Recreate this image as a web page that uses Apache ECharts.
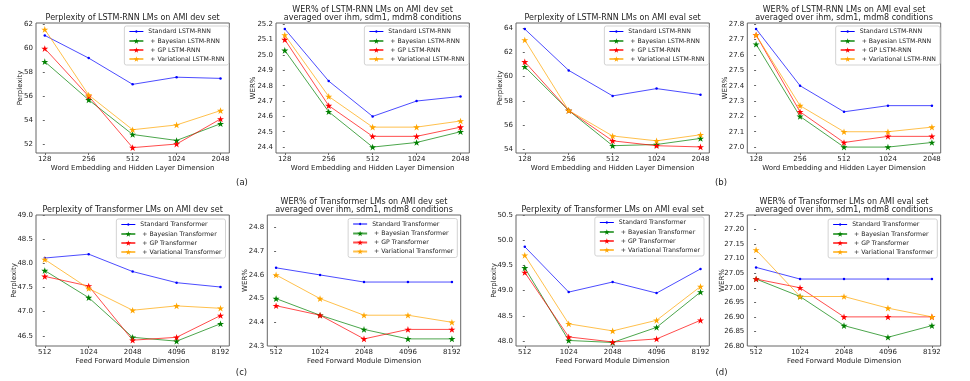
<!DOCTYPE html>
<html>
<head>
<meta charset="utf-8">
<script src="https://cdn.jsdelivr.net/npm/echarts@6/dist/echarts.min.js"></script>
<style>
  html, body { margin: 0; padding: 0; background: #fff; }
  #chart { width: 970px; height: 381px; }
</style>
</head>
<body>
<div id="chart"></div>
<script>
// categories
var lstmDims = ['128', '256', '512', '1024', '2048'];
var tfDims = ['512', '1024', '2048', '4096', '8192'];
var lstmNames = ['Standard LSTM-RNN', ' + Bayesian LSTM-RNN', ' + GP LSTM-RNN', ' + Variational LSTM-RNN'];
var tfNames = ['Standard Transformer', ' + Bayesian Transformer', ' + GP Transformer', ' + Variational Transformer'];

// (a) perplexity, LSTM-RNN, dev
var pplLstmDevStd = [61.1, 59.2, 57.0, 57.6, 57.5];
var pplLstmDevBayes = [58.9, 55.7, 52.8, 52.3, 53.7];
var pplLstmDevGp = [60.0, 56.0, 51.7, 52.0, 54.1];
var pplLstmDevVar = [61.6, 56.1, 53.2, 53.6, 54.8];
var pplLstmDevTicks = [52, 54, 56, 58, 60, 62];

// (a) WER, LSTM-RNN, dev
var werLstmDevStd = [25.17, 24.83, 24.60, 24.70, 24.73];
var werLstmDevBayes = [25.03, 24.63, 24.40, 24.43, 24.50];
var werLstmDevGp = [25.10, 24.67, 24.47, 24.47, 24.53];
var werLstmDevVar = [25.13, 24.73, 24.53, 24.53, 24.57];
var werLstmDevTicks = [24.4, 24.5, 24.6, 24.7, 24.8, 24.9, 25.0, 25.1, 25.2];

// (b) perplexity, LSTM-RNN, eval
var pplLstmEvalStd = [63.9, 60.5, 58.4, 59.0, 58.5];
var pplLstmEvalBayes = [60.8, 57.2, 54.3, 54.4, 54.9];
var pplLstmEvalGp = [61.2, 57.2, 54.7, 54.3, 54.2];
var pplLstmEvalVar = [63.0, 57.2, 55.1, 54.7, 55.2];
var pplLstmEvalTicks = [54, 56, 58, 60, 62, 64];

// (b) WER, LSTM-RNN, eval
var werLstmEvalStd = [27.77, 27.40, 27.23, 27.27, 27.27];
var werLstmEvalBayes = [27.67, 27.20, 27.00, 27.00, 27.03];
var werLstmEvalGp = [27.73, 27.23, 27.03, 27.07, 27.07];
var werLstmEvalVar = [27.73, 27.27, 27.10, 27.10, 27.13];
var werLstmEvalTicks = [27.0, 27.1, 27.2, 27.3, 27.4, 27.5, 27.6, 27.7, 27.8];

// (c) perplexity, Transformer, dev
var pplTfDevStd = [48.11, 48.19, 47.83, 47.60, 47.51];
var pplTfDevBayes = [47.85, 47.29, 46.47, 46.39, 46.75];
var pplTfDevGp = [47.73, 47.53, 46.41, 46.47, 46.92];
var pplTfDevVar = [48.08, 47.48, 47.03, 47.12, 47.07];
var pplTfDevTicks = [46.5, 47.0, 47.5, 48.0, 48.5, 49.0];

// (c) WER, Transformer, dev
var werTfDevStd = [24.63, 24.60, 24.57, 24.57, 24.57];
var werTfDevBayes = [24.50, 24.43, 24.37, 24.33, 24.33];
var werTfDevGp = [24.47, 24.43, 24.33, 24.37, 24.37];
var werTfDevVar = [24.60, 24.50, 24.43, 24.43, 24.40];
var werTfDevTicks = [24.3, 24.4, 24.5, 24.6, 24.7, 24.8];

// (d) perplexity, Transformer, eval
var pplTfEvalStd = [49.87, 48.97, 49.17, 48.95, 49.43];
var pplTfEvalBayes = [49.45, 48.01, 47.97, 48.27, 48.97];
var pplTfEvalGp = [49.36, 48.08, 47.98, 48.04, 48.41];
var pplTfEvalVar = [49.70, 48.34, 48.20, 48.41, 49.08];
var pplTfEvalTicks = [48.0, 48.5, 49.0, 49.5, 50.0, 50.5];

// (d) WER, Transformer, eval
var werTfEvalStd = [27.07, 27.03, 27.03, 27.03, 27.03];
var werTfEvalBayes = [27.03, 26.97, 26.87, 26.83, 26.87];
var werTfEvalGp = [27.03, 27.00, 26.90, 26.90, 26.90];
var werTfEvalVar = [27.13, 26.97, 26.97, 26.93, 26.90];
var werTfEvalTicks = [26.80, 26.85, 26.90, 26.95, 27.00, 27.05, 27.10, 27.15, 27.20, 27.25];

var FONT = 'DejaVu Sans';
var TXT = '#222';
var FRAME = '#666';
var colors = ['#0000ff', '#008000', '#ff0000', '#ffa500'];
// matplotlib-like '*' marker
var star = 'path://M0,-10 L2.245,-3.09 L9.51,-3.09 L3.633,1.18 L5.88,8.09 L0,3.82 L-5.88,8.09 L-3.633,1.18 L-9.51,-3.09 L-2.245,-3.09 Z';
// legend icon for the '.' marker: thin line + small dot in a 14x7 box
var dotLineIcon = 'path://M0,0 M14,7 M0,3.1 L6,3.1 L6.3,2.5 L7,2.2 L7.7,2.5 L8,3.1 L14,3.1 L14,3.9 L8,3.9 L7.7,4.5 L7,4.8 L6.3,4.5 L6,3.9 L0,3.9 Z';
var lstmX = 'Word Embedding and Hidden Layer Dimension';
var tfX = 'Feed Forward Module Dimension';
var werSub = '\naveraged over ihm, sdm1, mdm8 conditions';

var panels = [
  { cats: lstmDims, names: lstmNames, vals: [pplLstmDevStd, pplLstmDevBayes, pplLstmDevGp, pplLstmDevVar],
    ticks: pplLstmDevTicks, min: 51.25, max: 62.14, dec: 0,
    title: 'Perplexity of LSTM-RNN LMs on AMI dev set', yName: 'Perplexity', xName: lstmX,
    box: [36, 23, 193.3, 130], gap: 12, lr: 741.3, lt: 26 },
  { cats: lstmDims, names: lstmNames, vals: [werLstmDevStd, werLstmDevBayes, werLstmDevGp, werLstmDevVar],
    ticks: werLstmDevTicks, min: 24.3615, max: 25.2085, dec: 1,
    title: 'WER% of LSTM-RNN LMs on AMI dev set' + werSub, yName: 'WER%', xName: lstmX,
    box: [276, 23, 193.3, 130], gap: 19, lr: 501.3, lt: 26 },
  { cats: lstmDims, names: lstmNames, vals: [pplLstmEvalStd, pplLstmEvalBayes, pplLstmEvalGp, pplLstmEvalVar],
    ticks: pplLstmEvalTicks, min: 53.7, max: 64.4, dec: 0,
    title: 'Perplexity of LSTM-RNN LMs on AMI eval set', yName: 'Perplexity', xName: lstmX,
    box: [516, 23, 193.3, 130], gap: 12, lr: 261.3, lt: 26 },
  { cats: lstmDims, names: lstmNames, vals: [werLstmEvalStd, werLstmEvalBayes, werLstmEvalGp, werLstmEvalVar],
    ticks: werLstmEvalTicks, min: 26.9615, max: 27.8085, dec: 1,
    title: 'WER% of LSTM-RNN LMs on AMI eval set' + werSub, yName: 'WER%', xName: lstmX,
    box: [747.3, 23, 193.4, 130], gap: 19, lr: 30, lt: 26 },
  { cats: tfDims, names: tfNames, vals: [pplTfDevStd, pplTfDevBayes, pplTfDevGp, pplTfDevVar],
    ticks: pplTfDevTicks, min: 46.29, max: 49.0, dec: 1,
    title: 'Perplexity of Transformer LMs on AMI dev set', yName: 'Perplexity', xName: tfX,
    box: [36, 215, 193.3, 131], gap: 18.7, lr: 744.5, lt: 219 },
  { cats: tfDims, names: tfNames, vals: [werTfDevStd, werTfDevBayes, werTfDevGp, werTfDevVar],
    ticks: werTfDevTicks, min: 24.3, max: 24.853, dec: 1,
    title: 'WER% of Transformer LMs on AMI dev set' + werSub, yName: 'WER%', xName: tfX,
    box: [267.3, 215, 193.4, 131], gap: 19, lr: 512.7, lt: 218.5 },
  { cats: tfDims, names: tfNames, vals: [pplTfEvalStd, pplTfEvalBayes, pplTfEvalGp, pplTfEvalVar],
    ticks: pplTfEvalTicks, min: 47.9, max: 50.5, dec: 1,
    title: 'Perplexity of Transformer LMs on AMI eval set', yName: 'Perplexity', xName: tfX,
    box: [516, 215, 193.3, 131], gap: 18.7, lr: 266, lt: 217 },
  { cats: tfDims, names: tfNames, vals: [werTfEvalStd, werTfEvalBayes, werTfEvalGp, werTfEvalVar],
    ticks: werTfEvalTicks, min: 26.8, max: 27.25, dec: 2,
    title: 'WER% of Transformer LMs on AMI eval set' + werSub, yName: 'WER%', xName: tfX,
    box: [747.3, 215, 193.4, 131], gap: 21.5, lr: 32.7, lt: 219 }
];

var grids = [], xAxes = [], yAxes = [], series = [], legends = [], graphics = [];

panels.forEach(function (p, i) {
  var cats = p.cats;
  var idx = cats.map(function (c, j) { return j; });
  grids.push({
    left: p.box[0], top: p.box[1], width: p.box[2], height: p.box[3],
    show: true, borderColor: FRAME, borderWidth: 1, backgroundColor: '#fff'
  });
  xAxes.push({
    gridIndex: i, type: 'value', min: -0.2, max: 4.2,
    axisLine: { show: false },
    splitLine: { show: false },
    axisTick: { show: true, length: 2, customValues: idx, lineStyle: { color: FRAME } },
    axisLabel: {
      customValues: idx, margin: 3, color: TXT, fontFamily: FONT, fontSize: 7,
      formatter: function (v) { return cats[Math.round(v)]; }
    },
    name: p.xName, nameLocation: 'middle', nameGap: 11.5, nameMoveOverlap: false,
    nameTextStyle: { color: TXT, fontFamily: FONT, fontSize: 7 }
  });
  yAxes.push({
    gridIndex: i, type: 'value', min: p.min, max: p.max,
    axisLine: { show: false },
    splitLine: { show: false },
    axisTick: { show: true, length: 2, customValues: p.ticks, lineStyle: { color: FRAME } },
    axisLabel: {
      customValues: p.ticks, margin: 3, color: TXT, fontFamily: FONT, fontSize: 7,
      formatter: (function (d) { return function (v) { return v.toFixed(d); }; })(p.dec)
    },
    name: p.yName, nameLocation: 'middle', nameGap: p.gap, nameMoveOverlap: false,
    nameTextStyle: { color: TXT, fontFamily: FONT, fontSize: 7 }
  });
  p.vals.forEach(function (vals, k) {
    series.push({
      type: 'line', name: p.names[k], xAxisIndex: i, yAxisIndex: i,
      data: vals.map(function (v, j) { return [j, v]; }),
      symbol: k === 0 ? 'circle' : star,
      symbolSize: k === 0 ? 2.5 : 7,
      symbolKeepAspect: true,
      showSymbol: true,
      lineStyle: { width: 1, color: colors[k], opacity: 0.7 },
      itemStyle: { color: colors[k] },
      emphasis: { disabled: true },
      animation: false
    });
  });
  legends.push({
    orient: 'vertical', right: p.lr, top: p.lt,
    data: p.names.map(function (n, k) {
      return k === 0 ? { name: n, icon: dotLineIcon } : { name: n };
    }),
    itemWidth: 14, itemHeight: 7, itemGap: 3, padding: [2, 4, 3, 4],
    backgroundColor: 'rgba(255,255,255,0.8)', borderColor: '#d3d3d3', borderWidth: 1, borderRadius: 2,
    selectedMode: false,
    textStyle: { fontFamily: FONT, fontSize: 6.2, color: TXT }
  });
  var twoLine = p.title.indexOf('\n') >= 0;
  graphics.push({
    type: 'text', x: p.box[0] + p.box[2] / 2, y: p.box[1] + (twoLine ? -8.8 : -4.8),
    style: {
      text: p.title, fill: TXT, font: '8px "DejaVu Sans"', lineHeight: 8.2,
      textAlign: 'center', textVerticalAlign: 'middle'
    }
  });
});

// panel letters
[['(a)', 242, 183], ['(b)', 721, 183], ['(c)', 241.5, 373], ['(d)', 721.5, 373]].forEach(function (l) {
  graphics.push({
    type: 'text', x: l[1], y: l[2],
    style: { text: l[0], fill: TXT, font: '8.5px "DejaVu Sans"', textAlign: 'center', textVerticalAlign: 'middle' }
  });
});

var myChart = echarts.init(document.getElementById('chart'), null, { renderer: 'canvas' });
myChart.setOption({
  animation: false,
  backgroundColor: '#fff',
  textStyle: { fontFamily: FONT },
  grid: grids,
  xAxis: xAxes,
  yAxis: yAxes,
  legend: legends,
  series: series,
  graphic: graphics
});
</script>
</body>
</html>
